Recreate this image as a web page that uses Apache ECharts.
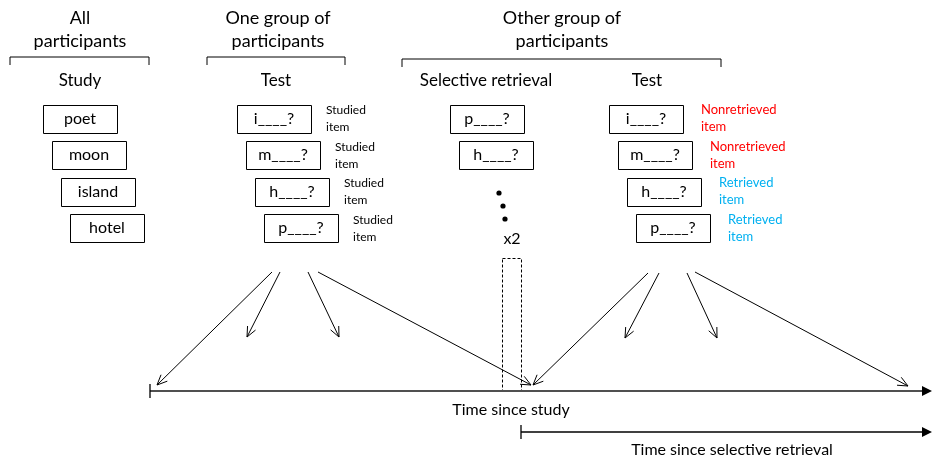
<!DOCTYPE html>
<html>
<head>
<meta charset="utf-8">
<script src="https://cdn.jsdelivr.net/npm/echarts@6/dist/echarts.min.js"></script>
<style>html,body{margin:0;padding:0;background:#fff}#c{width:932px;height:460px}</style>
</head>
<body>
<div id="c"></div>
<script>
// ---- content ----
const headers = [["All", 80, 18], ["participants", 80, 41], ["One group of", 278, 18], ["participants", 278, 41], ["Other group of", 562, 18], ["participants", 562, 41]];
const stages = [["Study", 80, 81], ["Test", 276, 81], ["Selective retrieval", 486, 81], ["Test", 647, 81]];
const brackets = [[10, 149, 57], [207, 345, 57], [402, 721, 59]];
const boxes = [
  ["poet", 43, 105], ["moon", 52, 141], ["island", 61, 178], ["hotel", 70, 214],
  ["i____?", 237, 105], ["m____?", 246, 141], ["h____?", 255, 178], ["p____?", 264, 214],
  ["p____?", 450, 105], ["h____?", 459, 141],
  ["i____?", 609, 105], ["m____?", 618, 141], ["h____?", 627, 178], ["p____?", 636, 214]
];
const itemLabels = [
  ["Studied", "item", 326, 110, "#000000", 12], ["Studied", "item", 335, 147, "#000000", 12],
  ["Studied", "item", 344, 183, "#000000", 12], ["Studied", "item", 353, 220, "#000000", 12],
  ["Nonretrieved", "item", 701, 110, "#FF0000", 13], ["Nonretrieved", "item", 710, 147, "#FF0000", 13],
  ["Retrieved", "item", 719, 183, "#00B0F0", 13], ["Retrieved", "item", 728, 220, "#00B0F0", 13]
];
const dots = [[499, 193], [503, 206], [505, 219]];
const repeatLabel = ["x2", 512, 239];
const arrows = [
  [272, 272, 157, 385], [280, 272, 247, 337], [308, 272, 339, 337], [318, 272, 531, 385],
  [648, 273, 533, 385], [659, 273, 625, 338], [687, 273, 717, 338], [695, 272, 908, 386]
];
const dashedRect = [502, 258, 521, 391];
const timelines = [[150, 932, 391, "#505050", 2], [521, 932, 432, "#000000", 1.3]];
const timeLabels = [["Time since study", 511, 410], ["Time since selective retrieval", 732, 450]];

const FONT = "Lato, 'Open Sans', sans-serif";
const idx = arr => arr.map((d, i) => [0, 0, i]);

function textEl(x, y, text, size, color) {
  return { type: 'text', x: x, y: y, style: { text: text, fill: color || '#000', font: size + 'px ' + FONT, align: 'center', verticalAlign: 'middle' } };
}
function leftText(x, y, text, size, color) {
  return { type: 'text', x: x, y: y, style: { text: text, fill: color || '#000', font: size + 'px ' + FONT, align: 'left', verticalAlign: 'middle' } };
}

const series = [
  { // headers
    type: 'custom', data: idx(headers), silent: true,
    renderItem: (p, api) => {
      const d = headers[api.value(2)];
      const c = api.coord([d[1], d[2]]);
      return textEl(c[0], c[1], d[0], 18);
    }
  },
  { // stage titles
    type: 'custom', data: idx(stages), silent: true,
    renderItem: (p, api) => {
      const d = stages[api.value(2)];
      const c = api.coord([d[1], d[2]]);
      return textEl(c[0], c[1], d[0], 17);
    }
  },
  { // brackets
    type: 'custom', data: idx(brackets), silent: true,
    renderItem: (p, api) => {
      const b = brackets[api.value(2)];
      const a = api.coord([b[0], b[2] + 8]), t1 = api.coord([b[0], b[2]]), t2 = api.coord([b[1], b[2]]), e = api.coord([b[1], b[2] + 8]);
      return { type: 'polyline', shape: { points: [a, t1, t2, e] }, style: { stroke: '#000', lineWidth: 1, fill: null } };
    }
  },
  { // boxes
    type: 'custom', data: idx(boxes), silent: true,
    renderItem: (p, api) => {
      const b = boxes[api.value(2)];
      const p1 = api.coord([b[1], b[2]]), p2 = api.coord([b[1] + 74, b[2] + 28]);
      return { type: 'group', children: [
        { type: 'rect', shape: { x: p1[0] + 0.5, y: p1[1] + 0.5, width: p2[0] - p1[0], height: p2[1] - p1[1] }, style: { fill: '#fff', stroke: '#000', lineWidth: 1 } },
        textEl((p1[0] + p2[0]) / 2, (p1[1] + p2[1]) / 2, b[0], 16)
      ] };
    }
  },
  { // item labels
    type: 'custom', data: idx(itemLabels), silent: true,
    renderItem: (p, api) => {
      const d = itemLabels[api.value(2)];
      const c1 = api.coord([d[2], d[3]]), c2 = api.coord([d[2], d[3] + 17]);
      return { type: 'group', children: [leftText(c1[0], c1[1], d[0], d[5], d[4]), leftText(c2[0], c2[1], d[1], d[5], d[4])] };
    }
  },
  { // dots
    type: 'custom', data: idx(dots), silent: true,
    renderItem: (p, api) => {
      const d = dots[api.value(2)];
      const c = api.coord(d);
      return { type: 'circle', shape: { cx: c[0], cy: c[1], r: 2.6 }, style: { fill: '#000' } };
    }
  },
  { // repeat label + time labels
    type: 'custom', data: idx([repeatLabel].concat(timeLabels)), silent: true,
    renderItem: (p, api) => {
      const d = [repeatLabel].concat(timeLabels)[api.value(2)];
      const c = api.coord([d[1], d[2]]);
      return textEl(c[0], c[1], d[0], 16);
    }
  },
  { // arrows
    type: 'custom', data: idx(arrows), silent: true,
    renderItem: (p, api) => {
      const a = arrows[api.value(2)];
      const s = api.coord([a[0], a[1]]), e = api.coord([a[2], a[3]]);
      const ang = Math.atan2(e[1] - s[1], e[0] - s[0]);
      const L = 11, w = 0.42;
      const h1 = [e[0] - L * Math.cos(ang - w), e[1] - L * Math.sin(ang - w)];
      const h2 = [e[0] - L * Math.cos(ang + w), e[1] - L * Math.sin(ang + w)];
      return { type: 'group', children: [
        { type: 'line', shape: { x1: s[0], y1: s[1], x2: e[0], y2: e[1] }, style: { stroke: '#000', lineWidth: 1 } },
        { type: 'polyline', shape: { points: [h1, e, h2] }, style: { stroke: '#000', lineWidth: 1, fill: null } }
      ] };
    }
  },
  { // dashed rect
    type: 'custom', data: [[0, 0, 0]], silent: true,
    renderItem: (p, api) => {
      const p1 = api.coord([dashedRect[0], dashedRect[1]]), p2 = api.coord([dashedRect[2], dashedRect[3]]);
      return { type: 'rect', shape: { x: p1[0] + 0.5, y: p1[1] + 0.5, width: p2[0] - p1[0], height: p2[1] - p1[1] }, style: { fill: null, stroke: '#000', lineWidth: 1, lineDash: [3, 2] } };
    }
  },
  { // timelines
    type: 'custom', data: idx(timelines), silent: true,
    renderItem: (p, api) => {
      const t = timelines[api.value(2)];
      const s = api.coord([t[0], t[2]]), e = api.coord([t[1], t[2]]);
      const ts = api.coord([t[0], t[2] - 7]), te = api.coord([t[0], t[2] + 7]);
      return { type: 'group', children: [
        { type: 'line', shape: { x1: s[0], y1: s[1], x2: e[0] - 8, y2: e[1] }, style: { stroke: t[3], lineWidth: t[4] } },
        { type: 'line', shape: { x1: ts[0], y1: ts[1], x2: te[0], y2: te[1] }, style: { stroke: '#000', lineWidth: 1.3 } },
        { type: 'polygon', shape: { points: [[e[0] - 10, e[1] - 5], [e[0], e[1]], [e[0] - 10, e[1] + 5]] }, style: { fill: '#000' } }
      ] };
    }
  }
];

const chart = echarts.init(document.getElementById('c'), null, { renderer: 'canvas' });
chart.setOption({
  animation: false,
  backgroundColor: '#fff',
  grid: { left: 0, right: 0, top: 0, bottom: 0 },
  xAxis: { type: 'value', min: 0, max: 932, show: false },
  yAxis: { type: 'value', min: 0, max: 460, inverse: true, show: false },
  series: series
});
</script>
</body>
</html>
